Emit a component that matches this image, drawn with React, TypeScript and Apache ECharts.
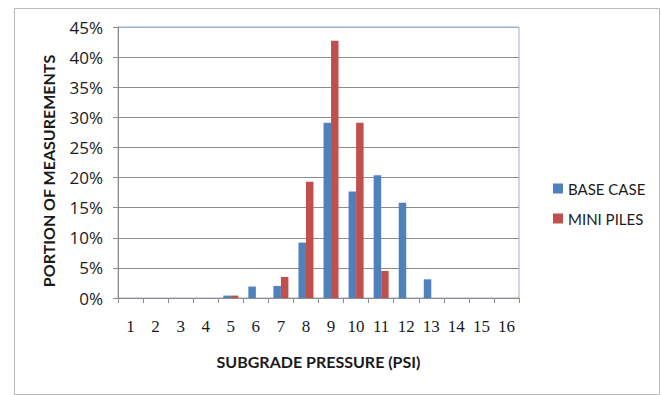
import React, { useEffect, useRef } from "react";
import * as echarts from "echarts";

// Subgrade pressure bins (psi)
const categories = ["1", "2", "3", "4", "5", "6", "7", "8", "9", "10", "11", "12", "13", "14", "15", "16"];
// Share of measurements in each bin, in percent
const baseCase = [0, 0, 0, 0, 0.4, 1.9, 2.0, 9.2, 29.1, 17.7, 20.4, 15.8, 3.1, 0, 0, 0];
const miniPiles = [0, 0, 0, 0, 0.4, 0, 3.5, 19.3, 42.7, 29.1, 4.5, 0, 0, 0, 0, 0];
const yTicks = { min: 0, max: 45, interval: 5 };

const sansFont = "Lato, 'Open Sans', sans-serif";
const labelFont = "'Open Sans', Lato, sans-serif";
const serifFont = "'Liberation Serif', 'DejaVu Serif', serif";

export default function App() {
  const ref = useRef<HTMLDivElement>(null);

  useEffect(() => {
    if (!ref.current) return;
    const chart = echarts.init(ref.current, undefined, { renderer: "svg" });
    const gridColors = ["#8c8c8c", "#8c8c8c", "#8c8c8c", "#8c8c8c", "#8c8c8c", "#8c8c8c", "#8c8c8c", "#8c8c8c", "#8c8c8c", "#9fb0c8"];
    chart.setOption({
      animation: false,
      backgroundColor: "#ffffff",
      graphic: [
        {
          type: "rect",
          shape: { x: 14.5, y: 8.5, width: 645, height: 386 },
          style: { fill: "none", stroke: "#b8b8b8", lineWidth: 1 },
          silent: true,
        },
      ],
      grid: {
        left: 118,
        right: 143,
        top: 27,
        bottom: 97,
        show: true,
        borderColor: "#9fb0c8",
        borderWidth: 1,
      },
      legend: {
        orient: "vertical",
        left: 548,
        top: 176,
        itemWidth: 10,
        itemHeight: 10,
        itemGap: 15,
        icon: "rect",
        textStyle: { fontFamily: sansFont, fontSize: 15, lineHeight: 15, color: "#1a1a1a" },
        data: ["BASE CASE", "MINI PILES"],
      },
      xAxis: {
        type: "category",
        data: categories,
        name: "SUBGRADE PRESSURE (PSI)",
        nameLocation: "middle",
        nameGap: 55,
        nameTextStyle: { fontFamily: sansFont, fontSize: 16, fontWeight: "bold", color: "#1a1a1a" },
        axisLine: { lineStyle: { color: "#8c8c8c" } },
        axisTick: { show: true, length: 5, lineStyle: { color: "#8c8c8c" } },
        axisLabel: { fontFamily: serifFont, fontSize: 17, color: "#1a1a1a", margin: 20 },
      },
      yAxis: {
        type: "value",
        min: yTicks.min,
        max: yTicks.max,
        interval: yTicks.interval,
        name: "PORTION OF MEASUREMENTS",
        nameLocation: "middle",
        nameGap: 62,
        nameTextStyle: {
          fontFamily: sansFont,
          fontSize: 16,
          fontWeight: "bold",
          color: "#1a1a1a",
          padding: [0, 17, 0, 0],
        },
        axisLine: { show: true, lineStyle: { color: "#8c8c8c" } },
        axisTick: { show: true, length: 5, lineStyle: { color: "#8c8c8c" } },
        axisLabel: { fontFamily: labelFont, fontSize: 17, color: "#1a1a1a", margin: 15, formatter: "{value}%" },
        splitLine: { show: true, lineStyle: { color: gridColors, width: 1 } },
      },
      series: [
        {
          name: "BASE CASE",
          type: "bar",
          data: baseCase,
          itemStyle: { color: "#4f81bd" },
          barWidth: 7.5,
          barGap: "0%",
        },
        {
          name: "MINI PILES",
          type: "bar",
          data: miniPiles,
          itemStyle: { color: "#c0504d" },
          barWidth: 7.5,
          barGap: "0%",
        },
      ],
    });
    return () => chart.dispose();
  }, []);

  return (
    <div
      ref={ref}
      style={{ position: "fixed", left: 0, top: 0, width: 662, height: 395, background: "#fff" }}
    />
  );
}
